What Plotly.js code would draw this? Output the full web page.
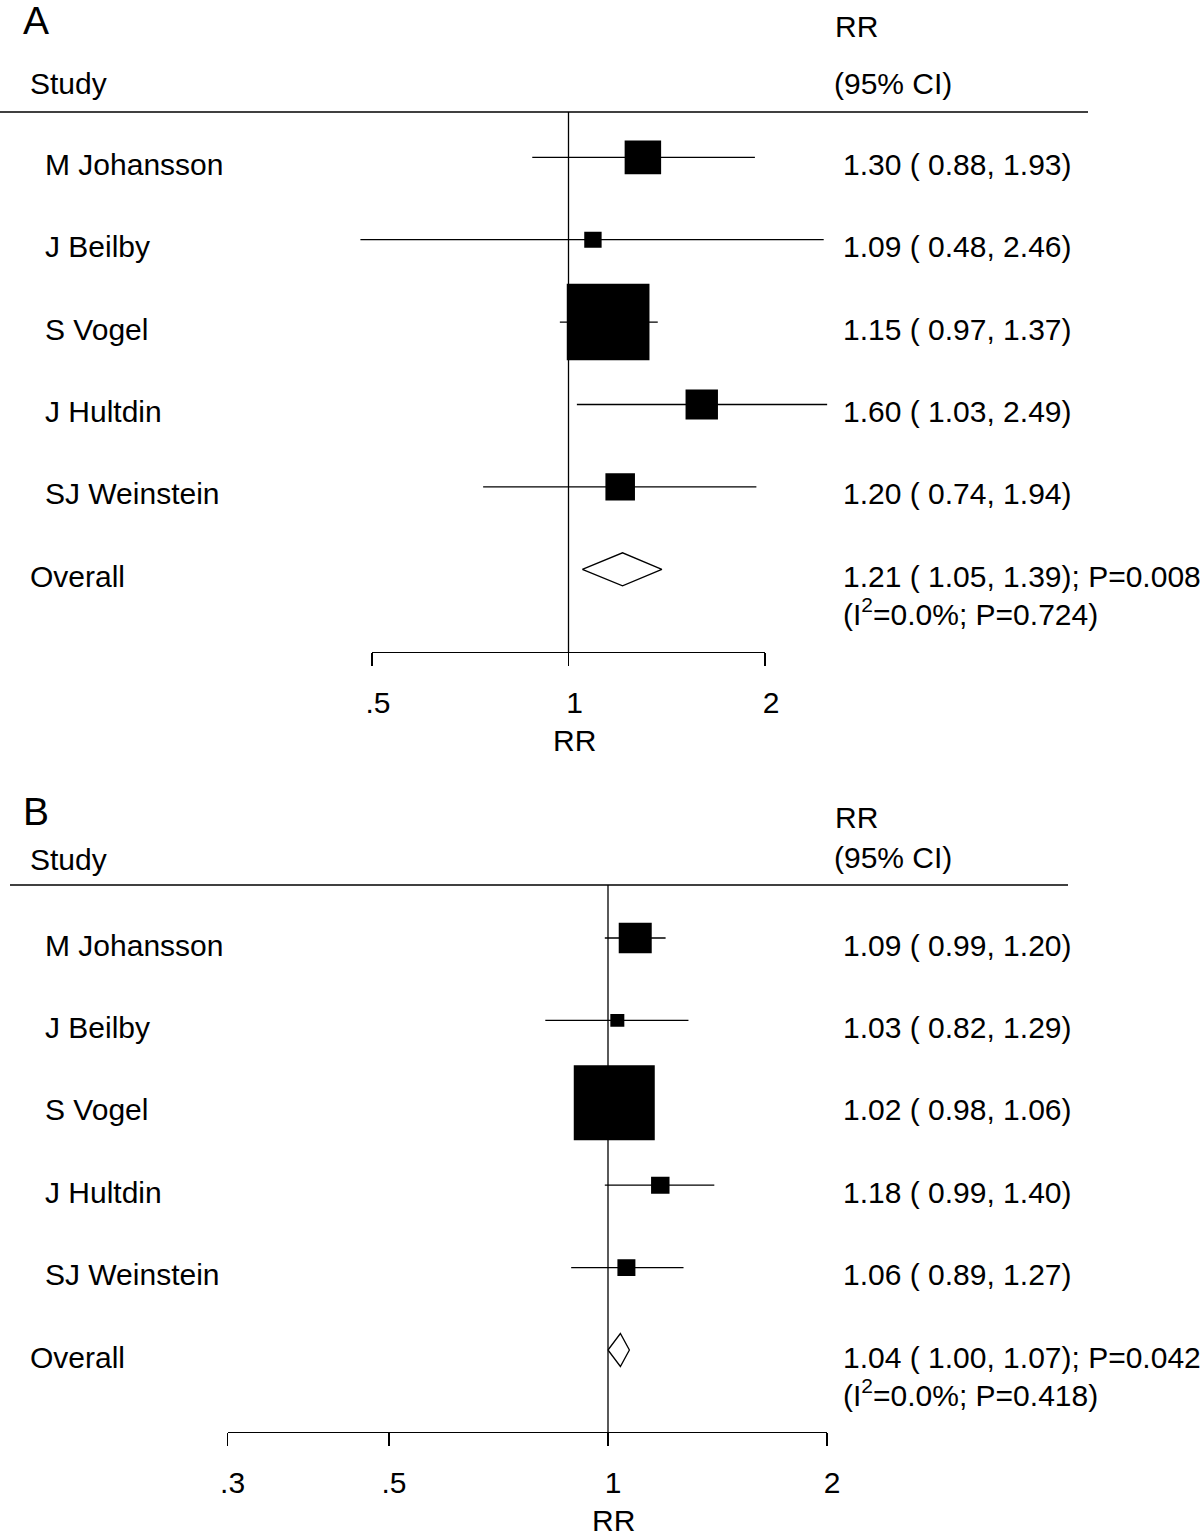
<!DOCTYPE html>
<html><head><meta charset="utf-8">
<script src="https://cdn.plot.ly/plotly-3.0.1.min.js"></script>
<style>html,body{margin:0;padding:0;background:#fff}</style>
</head><body>
<div id="chart" style="width:1200px;height:1538px"></div>
<script>
// ---------------- data ----------------
const studies   = ["M Johansson", "J Beilby", "S Vogel", "J Hultdin", "SJ Weinstein"];
const overallLabel = "Overall";

// Panel A
const rrA     = [1.30, 1.09, 1.15, 1.60, 1.20];
const loA     = [0.88, 0.48, 0.97, 1.03, 0.74];
const hiA     = [1.93, 2.46, 1.37, 2.49, 1.94];
const weightA = [12.8, 2.9, 65.8, 10.1, 8.4];
const overallA = [1.21, 1.05, 1.39];          // RR, lower, upper
const statsA   = ["0.008", "0.0", "0.724"];    // P, I2 %, P heterogeneity
const ticksA    = [0.5, 1, 2];
const tickTextA = [".5", "1", "2"];

// Panel B
const rrB     = [1.09, 1.03, 1.02, 1.18, 1.06];
const loB     = [0.99, 0.82, 0.98, 0.99, 0.89];
const hiB     = [1.20, 1.29, 1.06, 1.40, 1.27];
const weightB = [12.8, 2.3, 77.1, 4.0, 3.8];
const overallB = [1.04, 1.00, 1.07];
const statsB   = ["0.042", "0.0", "0.418"];
const ticksB    = [0.3, 0.5, 1, 2];
const tickTextB = [".3", ".5", "1", "2"];

// ---------------- style / layout ----------------
const W = 1200, H = 1538;
const FONT = '"Liberation Sans", Arial, Helvetica, sans-serif';
const FS = 30;
const INK = '#000';
const LW = 1.3;
const px2x = p => p / W;
const px2y = p => 1 - p / H;
const f2 = v => v.toFixed(2);

const panels = [
  { letter: 'A', rr: rrA, lo: loA, hi: hiA, w: weightA, ov: overallA, st: statsA,
    ticks: ticksA, tickText: tickTextA, xa: 'x', ya: 'y', txa: 'x3', tya: 'y3',
    one: 568.5, ppd: 652.8, row0: 157.3, pitch: 82.4, top: 112, axisY: 652,
    maxBox: 82.7, ruleX: [0, 1088], letterY: 20, headY: 84, rrY: 27, ciY: 84,
    titleY: 740, shift: 6 },
  { letter: 'B', rr: rrB, lo: loB, hi: hiB, w: weightB, ov: overallB, st: statsB,
    ticks: ticksB, tickText: tickTextB, xa: 'x2', ya: 'y2', txa: 'x4', tya: 'y4',
    one: 608, ppd: 727.5, row0: 938, pitch: 82.4, top: 885, axisY: 1432,
    maxBox: 81, ruleX: [10, 1068], letterY: 811, headY: 859, rrY: 818, ciY: 858,
    titleY: 1520, shift: 5 }
];

const traces = [];
const layout = {
  width: W, height: H,
  margin: { l: 0, r: 0, t: 0, b: 0, pad: 0 },
  paper_bgcolor: '#fff', plot_bgcolor: 'rgba(0,0,0,0)',
  showlegend: false,
  font: { family: FONT, size: FS, color: INK },
  annotations: [], shapes: []
};

function ann(text, xpx, opts) {
  return Object.assign({
    text: text, xref: 'paper', x: px2x(xpx), xanchor: 'left', yanchor: 'middle',
    showarrow: false, borderpad: 0, borderwidth: 0,
    font: { family: FONT, size: FS, color: INK }
  }, opts);
}

panels.forEach(P => {
  const n = P.rr.length;
  const rows = P.rr.map((_, i) => i);
  const ovRow = n;
  const axNum = P.xa === 'x' ? '' : P.xa.slice(1);
  const yNum = P.ya === 'y' ? '' : P.ya.slice(1);
  const tNum = P.txa.slice(1);
  const tyNum = P.tya.slice(1);

  // data axes (invisible) spanning the full width
  layout['xaxis' + axNum] = {
    type: 'log', domain: [0, 1], anchor: P.ya,
    range: [-P.one / P.ppd, (W - P.one) / P.ppd],
    visible: false, fixedrange: true
  };
  layout['yaxis' + yNum] = {
    domain: [px2y(P.axisY), px2y(P.top)], anchor: P.xa,
    range: [(P.axisY - P.row0) / P.pitch, (P.top - P.row0) / P.pitch],
    visible: false, fixedrange: true
  };
  // visible RR axis
  const t0 = P.ticks[0], t1 = P.ticks[P.ticks.length - 1];
  layout['xaxis' + tNum] = {
    type: 'log', anchor: P.tya,
    domain: [px2x(P.one + P.ppd * Math.log10(t0)), px2x(P.one + P.ppd * Math.log10(t1))],
    range: [Math.log10(t0), Math.log10(t1)],
    showline: true, linecolor: INK, linewidth: LW,
    ticks: 'outside', ticklen: 13, tickwidth: LW, tickcolor: INK,
    tickmode: 'array', tickvals: P.ticks, ticktext: P.tickText,
    tickfont: { family: FONT, size: FS, color: INK },
    ticklabelshift: P.shift, ticklabelstandoff: 11,
    showgrid: false, zeroline: false, fixedrange: true
  };
  layout['yaxis' + tyNum] = {
    domain: [px2y(P.axisY), px2y(P.axisY) + 0.002], anchor: P.txa,
    range: [0, 1], visible: false, fixedrange: true
  };
  traces.push({ x: P.ticks, y: P.ticks.map(() => 0), xaxis: P.txa, yaxis: P.tya,
    mode: 'markers', marker: { opacity: 0 }, hoverinfo: 'skip' });

  // confidence interval lines
  const cx = [], cy = [];
  rows.forEach(i => { cx.push(P.lo[i], P.hi[i], null); cy.push(i, i, null); });
  traces.push({ x: cx, y: cy, xaxis: P.xa, yaxis: P.ya, mode: 'lines',
    line: { color: INK, width: LW }, hoverinfo: 'skip' });

  // weighted boxes
  const wmax = Math.max(...P.w);
  const bx = [], by = [];
  rows.forEach(i => {
    const bw = P.maxBox * Math.sqrt(P.w[i] / wmax);
    const bh = bw * 0.925;
    const hw = bw / 2 / P.ppd;
    const hh = bh / 2 / P.pitch;
    const a = P.rr[i] * Math.pow(10, -hw), b = P.rr[i] * Math.pow(10, hw);
    bx.push(a, b, b, a, a, null);
    by.push(i - hh, i - hh, i + hh, i + hh, i - hh, null);
  });
  traces.push({ x: bx, y: by, xaxis: P.xa, yaxis: P.ya, mode: 'lines', fill: 'toself',
    fillcolor: INK, line: { width: 0, color: INK }, hoverinfo: 'skip' });

  // overall diamond
  const dh = 16.5 / P.pitch;
  traces.push({
    x: [P.ov[1], P.ov[0], P.ov[2], P.ov[0], P.ov[1]],
    y: [ovRow, ovRow - dh, ovRow, ovRow + dh, ovRow],
    xaxis: P.xa, yaxis: P.ya, mode: 'lines', fill: 'toself', fillcolor: '#fff',
    line: { color: INK, width: LW }, hoverinfo: 'skip'
  });

  // reference line at RR = 1
  layout.shapes.push({ type: 'line', xref: P.xa, x0: 1, x1: 1,
    yref: P.ya + ' domain', y0: 0, y1: 1, layer: 'below',
    line: { color: INK, width: LW } });
  // header rule
  layout.shapes.push({ type: 'line', xref: 'paper', yref: 'paper',
    x0: px2x(P.ruleX[0]), x1: px2x(P.ruleX[1]), y0: px2y(P.top), y1: px2y(P.top),
    line: { color: INK, width: LW } });

  // headers
  layout.annotations.push(ann(P.letter, 23, { yref: 'paper', y: px2y(P.letterY),
    font: { family: FONT, size: 39, color: INK } }));
  layout.annotations.push(ann('Study', 30, { yref: 'paper', y: px2y(P.headY) }));
  layout.annotations.push(ann('RR', 834.5, { yref: 'paper', y: px2y(P.rrY) }));
  layout.annotations.push(ann('(95% CI)', 834, { yref: 'paper', y: px2y(P.ciY) }));

  // study rows
  rows.forEach(i => {
    layout.annotations.push(ann(studies[i], 44.5, { yref: P.ya, y: i, yshift: -7 }));
    layout.annotations.push(ann(f2(P.rr[i]) + ' ( ' + f2(P.lo[i]) + ', ' + f2(P.hi[i]) + ')',
      843, { yref: P.ya, y: i, yshift: -7 }));
  });
  // overall row
  layout.annotations.push(ann(overallLabel, 30, { yref: P.ya, y: ovRow, yshift: -7 }));
  layout.annotations.push(ann(f2(P.ov[0]) + ' ( ' + f2(P.ov[1]) + ', ' + f2(P.ov[2]) + '); P=' + P.st[0],
    843, { yref: P.ya, y: ovRow, yshift: -7 }));
  layout.annotations.push(ann('(I<sup>2</sup>=' + P.st[1] + '%; P=' + P.st[2] + ')',
    843, { yref: P.ya, y: ovRow, yshift: -43 }));

  // axis title
  layout.annotations.push(ann('RR', P.one + P.shift, { xanchor: 'center', yref: 'paper', y: px2y(P.titleY) }));
});

Plotly.newPlot('chart', traces, layout, { staticPlot: true, displayModeBar: false });
</script>
</body></html>
